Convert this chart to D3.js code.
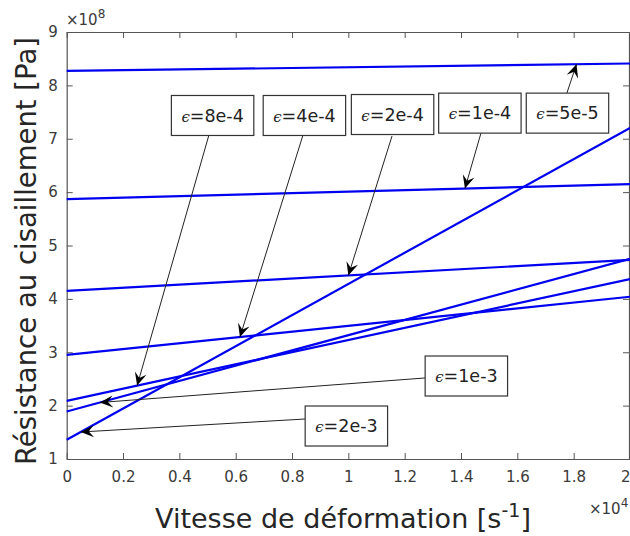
<!DOCTYPE html>
<html><head><meta charset="utf-8">
<script src="https://cdn.jsdelivr.net/npm/d3@7"></script>
<style>html,body{margin:0;padding:0;background:#fff;}</style>
</head><body>
<svg id="chart" width="630" height="536"></svg>
<script>
// ---- data ----
const strains = ["5e-5", "1e-4", "2e-4", "4e-4", "8e-4", "1e-3", "2e-3"];
const rateX = [0, 2];                               // ×10^4 s^-1
const tauStart = [8.27, 5.87, 4.15, 2.95, 2.09, 1.89, 1.36]; // ×10^8 Pa at x=0
const tauEnd   = [8.41, 6.15, 4.73, 4.04, 4.37, 4.75, 7.20]; // ×10^8 Pa at x=2
const xTicks = [0, 0.2, 0.4, 0.6, 0.8, 1, 1.2, 1.4, 1.6, 1.8, 2];
const yTicks = [1, 2, 3, 4, 5, 6, 7, 8, 9];
// annotations (data units): label, box centre, arrow tail, arrow tip x on the curve
const annLabel = ["8e-4", "4e-4", "2e-4", "1e-4", "5e-5", "1e-3", "2e-3"];
const annBoxX  = [0.518, 0.844, 1.157, 1.467, 1.778, 1.419, 0.993];
const annBoxY  = [7.436, 7.436, 7.454, 7.48, 7.48, 2.555, 1.618];
const annTailX = [0.505, 0.839, 1.155, 1.471, 1.776, 1.272, 0.846];
const annTailY = [7.07, 7.07, 7.05, 7.108, 7.857, 2.518, 1.749];
const annTipX  = [0.25, 0.615, 1.0, 1.414, 1.81, 0.118, 0.05];

// ---- layout ----
const svg = d3.select("#chart");
const L = 66.7, R = 630, T = 32, B = 459;
const x = d3.scaleLinear().domain([0, 2]).range([L, R]);
const y = d3.scaleLinear().domain([1, 9]).range([B, T]);
const axisCol = "#555", textCol = "#3a3a3a";
const font = "'DejaVu Sans', sans-serif";

// axes
const gx = svg.append("g").attr("transform", `translate(0,${B})`)
  .call(d3.axisBottom(x).tickValues(xTicks).tickSizeInner(-6).tickSizeOuter(0).tickPadding(12).tickFormat(d3.format("~g")));
const gxt = svg.append("g").attr("transform", `translate(0,${T})`)
  .call(d3.axisTop(x).tickValues(xTicks).tickSizeInner(-6).tickSizeOuter(0).tickFormat(""));
const gy = svg.append("g").attr("transform", `translate(${L},0)`)
  .call(d3.axisLeft(y).tickValues(yTicks).tickSizeInner(-6).tickSizeOuter(0).tickPadding(9));
const gyr = svg.append("g").attr("transform", `translate(${R - 1},0)`)
  .call(d3.axisRight(y).tickValues(yTicks).tickSizeInner(-6).tickSizeOuter(0).tickFormat(""));
[gx, gxt, gy, gyr].forEach(g => {
  g.select(".domain").attr("stroke", axisCol).attr("stroke-width", 1.2);
  g.selectAll(".tick line").attr("stroke", axisCol);
  g.selectAll("text").attr("fill", textCol).style("font-family", font).style("font-size", "15px");
});
gx.selectAll(".tick text").attr("dy", "0.71em");
// keep last x tick label inside the picture
gx.selectAll(".tick text").filter(d => d === 2).attr("text-anchor", "end").attr("x", 0);

// exponent labels
function expLabel(px, py, exp) {
  const t = svg.append("text").attr("x", px).attr("y", py).attr("fill", textCol)
    .style("font-family", font).style("font-size", "15px");
  t.append("tspan").text("×10");
  t.append("tspan").attr("dy", -7).style("font-size", "12px").text(exp);
}
expLabel(66, 25, "8");
expLabel(589, 514, "4");

// axis labels
const xl = svg.append("text").attr("x", 343).attr("y", 528).attr("text-anchor", "middle")
  .attr("fill", "#262626").style("font-family", font).style("font-size", "27px");
xl.append("tspan").text("Vitesse de déformation [s");
xl.append("tspan").attr("dy", -11).style("font-size", "19px").text("-1");
xl.append("tspan").attr("dy", 11).text("]");
svg.append("text").attr("transform", "translate(36,251) rotate(-90)").attr("text-anchor", "middle")
  .attr("fill", "#262626").style("font-family", font).style("font-size", "27.5px")
  .text("Résistance au cisaillement [Pa]");

// lines
const lineGen = d3.line().x(d => x(d[0])).y(d => y(d[1]));
svg.append("g").selectAll("path").data(strains).join("path")
  .attr("d", (s, i) => lineGen([[rateX[0], tauStart[i]], [rateX[1], tauEnd[i]]]))
  .attr("fill", "none").attr("stroke", "#0000f0").attr("stroke-width", 2.2);

// arrow marker
svg.append("defs").append("marker").attr("id", "ah")
  .attr("viewBox", "-14 -7 16 14").attr("refX", 0).attr("refY", 0)
  .attr("markerWidth", 16).attr("markerHeight", 14).attr("markerUnits", "userSpaceOnUse")
  .attr("orient", "auto")
  .append("path").attr("d", "M0,0 L-13,-6 L-8,0 L-13,6 Z").attr("fill", "#000");

// annotations
const ag = svg.append("g");
annLabel.forEach((lab, i) => {
  const si = strains.indexOf(lab);
  const tipX = annTipX[i];
  const tipY = tauStart[si] + (tauEnd[si] - tauStart[si]) * (tipX - rateX[0]) / (rateX[1] - rateX[0]);
  ag.append("line")
    .attr("x1", x(annTailX[i])).attr("y1", y(annTailY[i]))
    .attr("x2", x(tipX)).attr("y2", y(tipY))
    .attr("stroke", "#222").attr("stroke-width", 1).attr("marker-end", "url(#ah)");
  const g = ag.append("g").attr("transform", `translate(${x(annBoxX[i])},${y(annBoxY[i])})`);
  const rect = g.append("rect").attr("fill", "#fff").attr("stroke", "#333").attr("stroke-width", 1.2);
  const t = g.append("text").attr("text-anchor", "middle").attr("dy", "0.36em").attr("fill", "#222")
    .style("font-family", font).style("font-size", "17.5px");
  t.append("tspan").style("font-family", "'DejaVu Serif', serif").style("font-style", "italic")
    .style("font-size", "15px").text("ϵ");
  t.append("tspan").text("=" + lab);
  const bb = t.node().getBBox();
  const w = bb.width + 20, h = 40;
  rect.attr("x", -w / 2).attr("y", -h / 2).attr("width", w).attr("height", h);
});
</script>
</body></html>
